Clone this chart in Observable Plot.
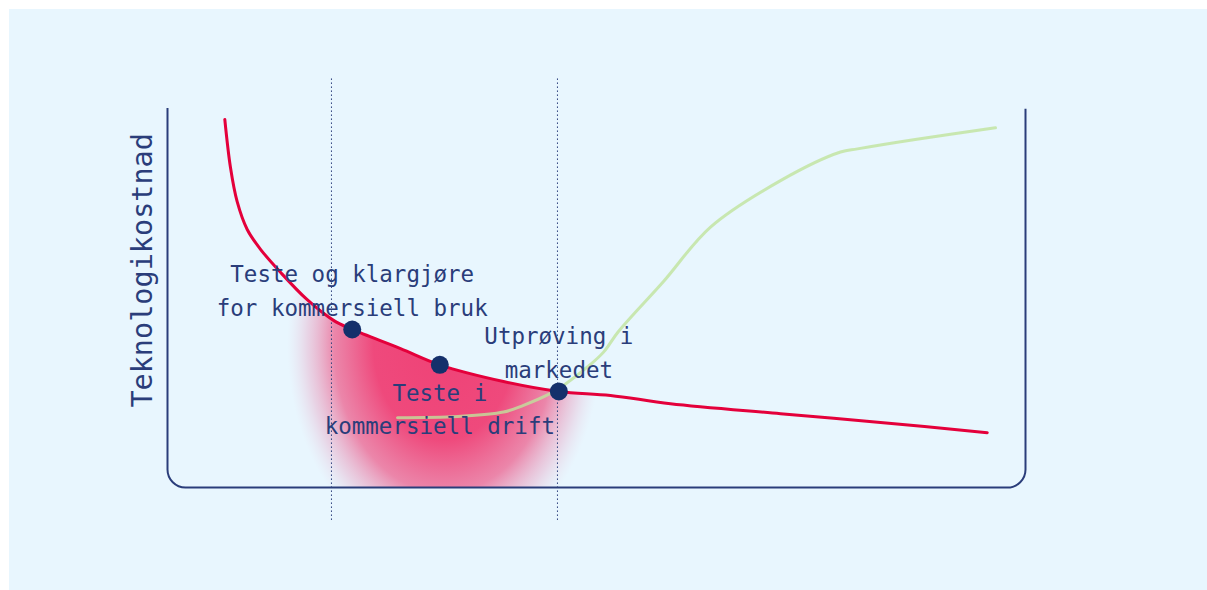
<!DOCTYPE html>
<html>
<head>
<meta charset="utf-8">
<script src="https://cdn.jsdelivr.net/npm/d3@7"></script>
<script src="https://cdn.jsdelivr.net/npm/@observablehq/plot@0.6"></script>
<style>
  html, body { margin: 0; padding: 0; background: #ffffff; }
  #panel { position: absolute; left: 9px; top: 9px; width: 1198px; height: 581px; background: #e8f6fe; }
  #panel svg { display: block; }
</style>
</head>
<body>
<div id="panel"></div>
<script>
// Technology cost curve (falls with maturity)
const costX = [6.68, 7.34, 8.12, 9.29, 10.84, 13.17, 16.28, 19.35, 21.53, 27.16, 31.74, 39.16, 45.61, 51.63, 58.62, 71.45, 83.10, 95.54];
const costY = [92.7, 80.6, 72.0, 65.0, 60.0, 54.2, 47.3, 42.1, 39.8, 35.0, 30.9, 26.7, 24.2, 23.2, 21.1, 18.6, 16.4, 13.8];

// Market uptake curve (S-shape)
const uptakeX = [26.81, 33.80, 39.16, 41.49, 44.64, 46.15, 49.30, 50.82, 52.56, 57.81, 63.29, 71.45, 78.44, 80.42, 86.95, 96.50];
const uptakeY = [17.6, 17.9, 19.0, 20.7, 23.7, 25.7, 31.0, 34.1, 39.3, 51.9, 65.6, 77.3, 84.5, 85.3, 87.6, 90.6];

// Milestones on the cost curve
const milestoneX = [21.53, 31.74, 45.61];
const milestoneY = [39.8, 30.9, 24.2];
const milestoneLabel = ["Teste og klargjøre\nfor kommersiell bruk", "Teste i\nkommersiell drift", "Utprøving i\nmarkedet"];
const milestoneSide = ["above", "below", "above"];

// Phase boundaries (dotted verticals) and their extent
const phaseX = [19.11, 45.45];
const phaseExtent = [-8.3, 103.5];

// Highlighted demonstration phase under the cost curve
const glowRange = [13, 53];
const glowCenter = [32.3, 36.0];
const glowRadius = [18.3, 53.5];

const yLabel = "Teknologikostnad";
const yLabelPos = 54.7;

const navy = "#2a3d7a";
const dotColor = "#14306b";
const red = "#e4003b";
const green = "#bfe39c";
const font = "'DejaVu Sans Mono', 'Liberation Mono', monospace";

const cost = costX.map((x, i) => ({x, y: costY[i]}));
const uptake = uptakeX.map((x, i) => ({x, y: uptakeY[i]}));
const milestones = milestoneX.map((x, i) => ({x, y: milestoneY[i], label: milestoneLabel[i], side: milestoneSide[i]}));
const glowRows = cost.filter(d => d.x >= glowRange[0] && d.x <= glowRange[1]);

const W = 1198, H = 581;
const mL = 158, mR = 182, mT = 81, mB = 103, rx = 18;
// hide the top edge of the rounded frame so the axes form an open "U"
const fw = W - mL - mR, fh = H - mT - mB;
const arc = Math.PI * rx / 2;
const frameDash = `0 ${fw - 2 * rx + arc} ${2 * (fh - 2 * rx) + (fw - 2 * rx) + 2 * arc} ${arc}`;

const chart = Plot.plot({
  width: W,
  height: H,
  marginLeft: mL,
  marginRight: mR,
  marginTop: mT,
  marginBottom: mB,
  style: {background: "transparent", fontFamily: font, color: navy},
  x: {domain: [0, 100], axis: null},
  y: {domain: [0, 100], axis: null},
  marks: [
    Plot.areaY(glowRows, {x: "x", y1: 0, y2: "y", curve: "catmull-rom", fill: "url(#phase-glow)"}),
    Plot.ruleX(phaseX, {x: d => d, y1: phaseExtent[0], y2: phaseExtent[1], stroke: navy, strokeWidth: 1, strokeDasharray: "1.5 2.5"}),
    Plot.frame({stroke: navy, strokeWidth: 2, rx: rx, strokeDasharray: frameDash}),
    Plot.line(uptake, {x: "x", y: "y", curve: "catmull-rom", stroke: green, strokeWidth: 3, strokeOpacity: 0.8}),
    Plot.line(cost, {x: "x", y: "y", curve: "catmull-rom", stroke: red, strokeWidth: 3}),
    Plot.dot(milestones, {x: "x", y: "y", r: 9, fill: dotColor}),
    Plot.text(milestones.filter(d => d.side === "above"), {x: "x", y: "y", text: "label", dy: -41, lineAnchor: "middle", lineHeight: 1.5, fontSize: 22.5, fill: navy}),
    Plot.text(milestones.filter(d => d.side === "below"), {x: "x", y: "y", text: "label", dy: 42, lineAnchor: "middle", lineHeight: 1.5, fontSize: 22.5, fill: navy}),
    Plot.text([{t: yLabel, y: yLabelPos}], {frameAnchor: "left", y: "y", text: "t", rotate: -90, dx: -25, textAnchor: "middle", lineAnchor: "middle", fontSize: 28.5, fill: navy})
  ]
});

// radial gradient for the demonstration-phase glow, placed with the chart's scales
const sx = chart.scale("x"), sy = chart.scale("y");
const cx = sx.apply(glowCenter[0]), cy = sy.apply(glowCenter[1]);
const rX = Math.abs(sx.apply(glowCenter[0] + glowRadius[0]) - cx);
const rY = Math.abs(sy.apply(glowCenter[1] + glowRadius[1]) - cy);
const ns = "http://www.w3.org/2000/svg";
const defs = document.createElementNS(ns, "defs");
const grad = document.createElementNS(ns, "radialGradient");
grad.setAttribute("id", "phase-glow");
grad.setAttribute("gradientUnits", "userSpaceOnUse");
grad.setAttribute("cx", cx);
grad.setAttribute("cy", cy);
grad.setAttribute("r", rX);
grad.setAttribute("gradientTransform", `translate(${cx} ${cy}) scale(1 ${rY / rX}) translate(${-cx} ${-cy})`);
[[0, "#ef4276", 1], [0.45, "#ef4478", 0.97], [0.7, "#ec6a95", 0.8], [0.87, "#e8a0c0", 0.4], [1, "#e8c8dc", 0]].forEach(([o, c, a]) => {
  const s = document.createElementNS(ns, "stop");
  s.setAttribute("offset", o);
  s.setAttribute("stop-color", c);
  s.setAttribute("stop-opacity", a);
  grad.appendChild(s);
});
defs.appendChild(grad);
chart.insertBefore(defs, chart.firstChild);

document.getElementById("panel").appendChild(chart);
</script>
</body>
</html>
